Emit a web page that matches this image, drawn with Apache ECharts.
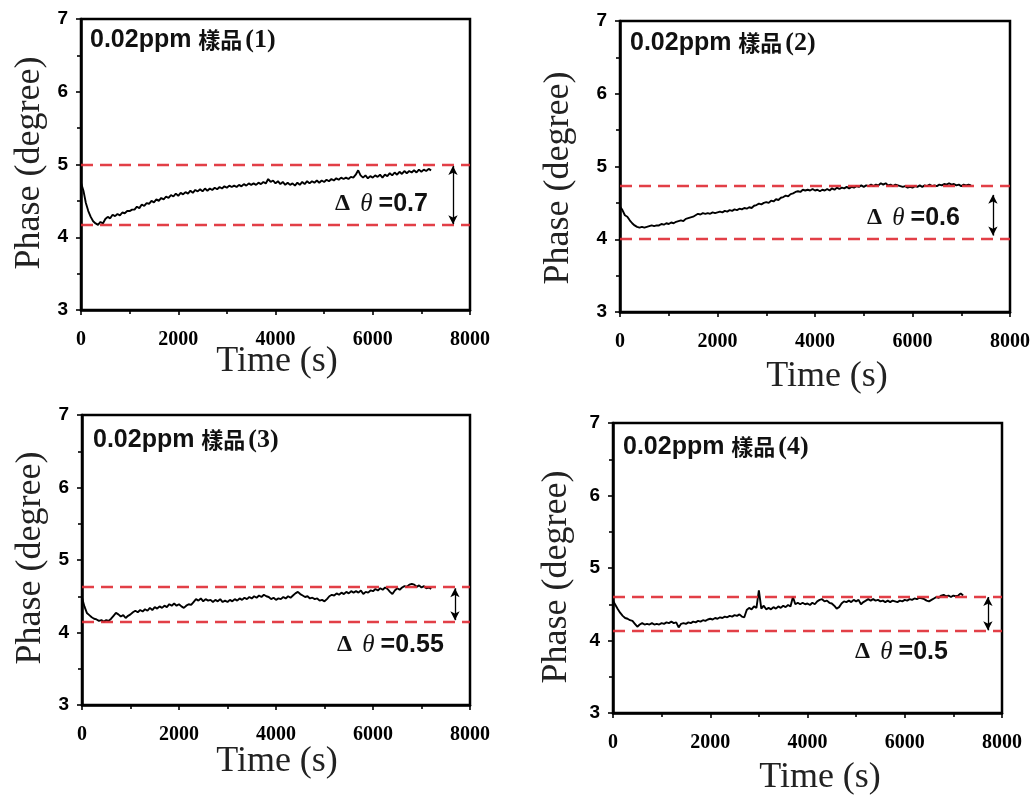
<!DOCTYPE html>
<html><head><meta charset="utf-8">
<script src="https://cdn.jsdelivr.net/npm/echarts@6/dist/echarts.min.js"></script>
<style>html,body{margin:0;padding:0;background:#fff}#c{width:1034px;height:798px}</style>
</head><body><div id="c"></div>
<script>
// time (s)
const time = [
0,50,100,150,200,250,300,350,400,450,
500,550,600,650,700,750,800,850,900,950,
1000,1050,1100,1150,1200,1250,1300,1350,1400,1450,
1500,1550,1600,1650,1700,1750,1800,1850,1900,1950,
2000,2050,2100,2150,2200,2250,2300,2350,2400,2450,
2500,2550,2600,2650,2700,2750,2800,2850,2900,2950,
3000,3050,3100,3150,3200,3250,3300,3350,3400,3450,
3500,3550,3600,3650,3700,3750,3800,3850,3900,3950,
4000,4050,4100,4150,4200,4250,4300,4350,4400,4450,
4500,4550,4600,4650,4700,4750,4800,4850,4900,4950,
5000,5050,5100,5150,5200,5250,5300,5350,5400,5450,
5500,5550,5600,5650,5700,5750,5800,5850,5900,5950,
6000,6050,6100,6150,6200,6250,6300,6350,6400,6450,
6500,6550,6600,6650,6700,6750,6800,6850,6900,6950,
7000,7050,7100,7150,7200];
// phase (degree), sample 1..4
const phase1 = [
4.75,4.64,4.47,4.36,4.28,4.22,4.19,4.17,4.21,4.19,
4.25,4.28,4.26,4.31,4.29,4.32,4.30,4.34,4.33,4.36,
4.36,4.38,4.38,4.42,4.40,4.45,4.43,4.47,4.46,4.50,
4.48,4.52,4.50,4.54,4.52,4.56,4.54,4.58,4.56,4.60,
4.57,4.61,4.59,4.62,4.60,4.64,4.61,4.65,4.63,4.66,
4.63,4.67,4.64,4.67,4.65,4.68,4.66,4.69,4.67,4.70,
4.68,4.71,4.69,4.71,4.69,4.72,4.70,4.73,4.71,4.74,
4.72,4.74,4.72,4.75,4.73,4.76,4.74,4.80,4.76,4.78,
4.74,4.77,4.73,4.76,4.72,4.75,4.72,4.74,4.71,4.75,
4.72,4.76,4.73,4.77,4.74,4.77,4.75,4.78,4.75,4.78,
4.76,4.79,4.77,4.80,4.78,4.81,4.79,4.82,4.80,4.82,
4.80,4.83,4.82,4.86,4.92,4.85,4.82,4.85,4.81,4.84,
4.82,4.85,4.83,4.86,4.82,4.86,4.84,4.88,4.85,4.89,
4.86,4.90,4.87,4.91,4.88,4.91,4.89,4.92,4.89,4.93,
4.90,4.93,4.91,4.94,4.92];
const phase2 = [
4.45,4.40,4.33,4.31,4.26,4.22,4.19,4.17,4.16,4.17,
4.16,4.17,4.18,4.19,4.18,4.19,4.19,4.21,4.20,4.22,
4.21,4.23,4.22,4.24,4.25,4.26,4.25,4.28,4.29,4.30,
4.31,4.33,4.35,4.34,4.36,4.35,4.36,4.35,4.37,4.36,
4.37,4.38,4.37,4.39,4.38,4.40,4.39,4.41,4.40,4.42,
4.41,4.43,4.42,4.44,4.43,4.46,4.47,4.49,4.48,4.50,
4.51,4.50,4.53,4.52,4.55,4.54,4.57,4.58,4.60,4.59,
4.62,4.63,4.65,4.66,4.65,4.68,4.67,4.68,4.67,4.69,
4.67,4.68,4.66,4.68,4.67,4.69,4.67,4.70,4.68,4.71,
4.69,4.71,4.70,4.72,4.70,4.72,4.71,4.73,4.72,4.74,
4.72,4.74,4.73,4.75,4.73,4.75,4.74,4.77,4.75,4.77,
4.74,4.75,4.73,4.75,4.74,4.73,4.72,4.73,4.71,4.72,
4.71,4.73,4.72,4.74,4.72,4.74,4.73,4.75,4.73,4.74,
4.73,4.75,4.74,4.76,4.75,4.77,4.75,4.76,4.74,4.75,
4.73,4.75,4.74,4.75,4.74];
const phase3 = [
4.48,4.36,4.27,4.24,4.21,4.19,4.18,4.16,4.17,4.15,
4.17,4.16,4.19,4.23,4.27,4.25,4.22,4.24,4.20,4.23,
4.25,4.28,4.30,4.28,4.31,4.29,4.32,4.30,4.34,4.31,
4.35,4.33,4.36,4.34,4.37,4.35,4.39,4.37,4.40,4.37,
4.39,4.36,4.34,4.37,4.39,4.38,4.42,4.46,4.44,4.47,
4.43,4.46,4.44,4.45,4.42,4.45,4.43,4.46,4.42,4.44,
4.42,4.45,4.43,4.46,4.44,4.47,4.45,4.48,4.46,4.49,
4.47,4.50,4.48,4.51,4.49,4.52,4.50,4.49,4.46,4.48,
4.45,4.47,4.46,4.49,4.47,4.50,4.48,4.51,4.54,4.56,
4.53,4.51,4.49,4.50,4.47,4.48,4.46,4.47,4.44,4.45,
4.43,4.46,4.50,4.52,4.51,4.54,4.52,4.55,4.53,4.56,
4.54,4.57,4.55,4.57,4.55,4.58,4.53,4.56,4.55,4.58,
4.57,4.60,4.58,4.61,4.59,4.62,4.60,4.56,4.53,4.58,
4.61,4.59,4.62,4.64,4.63,4.66,4.67,4.66,4.63,4.65,
4.62,4.64,4.61,4.62,4.60];
const phase4 = [
4.55,4.49,4.43,4.38,4.34,4.31,4.30,4.28,4.27,4.23,
4.19,4.22,4.24,4.22,4.23,4.22,4.24,4.22,4.23,4.22,
4.24,4.23,4.25,4.24,4.26,4.24,4.25,4.18,4.23,4.24,
4.23,4.25,4.24,4.26,4.25,4.27,4.26,4.28,4.27,4.29,
4.30,4.29,4.31,4.30,4.32,4.31,4.33,4.32,4.34,4.33,
4.35,4.34,4.36,4.33,4.32,4.42,4.45,4.43,4.47,4.45,
4.69,4.44,4.48,4.43,4.45,4.43,4.46,4.44,4.47,4.45,
4.48,4.46,4.49,4.47,4.60,4.50,4.52,4.50,4.52,4.50,
4.51,4.49,4.52,4.50,4.54,4.56,4.57,4.54,4.55,4.52,
4.51,4.48,4.44,4.46,4.51,4.54,4.53,4.55,4.53,4.56,
4.54,4.56,4.50,4.53,4.55,4.57,4.55,4.57,4.55,4.56,
4.54,4.55,4.53,4.55,4.53,4.55,4.54,4.53,4.55,4.54,
4.56,4.55,4.57,4.56,4.58,4.57,4.59,4.58,4.57,4.55,
4.54,4.56,4.58,4.60,4.59,4.62,4.63,4.61,4.62,4.60,
4.62,4.61,4.62,4.65,4.62];
const phases = [phase1, phase2, phase3, phase4];

const upperLevel = [5.0, 4.74, 4.63, 4.61];
const lowerLevel = [4.17, 4.01, 4.15, 4.13];
const arrowX = [7650, 7650, 7690, 7710];
const arrowLow = [4.18, 4.05, 4.17, 4.14];
const arrowHigh = [4.98, 4.61, 4.61, 4.60];
const sampleLabels = ['(1)', '(2)', '(3)', '(4)'];
const deltaValues = ['0.7', '0.6', '0.55', '0.5'];
const titlePrefix = '0.02ppm ';
const titleCJK = '樣品';
const xAxisName = 'Time (s)';
const yAxisName = 'Phase (degree)';
const xRange = [0, 8000, 2000];
const yRange = [3, 7, 1];

const layout = [
  {grid:{left:81,top:19,width:389,height:291}, title:[90,40], delta:[335,204], yName:[30,163], xName:[277,362]},
  {grid:{left:620,top:21,width:390,height:291}, title:[630,43], delta:[867,218], yName:[559,178], xName:[827,377]},
  {grid:{left:82,top:415,width:388,height:290}, title:[93,440], delta:[337,645], yName:[31,558], xName:[277,762]},
  {grid:{left:613,top:423,width:389,height:290}, title:[623,447], delta:[855,652], yName:[557,577], xName:[820,778]}
];

const grids = [], xAxes = [], yAxes = [], series = [], graphics = [];
layout.forEach((L, k) => {
  grids.push(Object.assign({show:true, borderColor:'#000', borderWidth:2.5, backgroundColor:'transparent', containLabel:false}, L.grid));
  xAxes.push({
    type:'value', gridIndex:k, min:xRange[0], max:xRange[1], interval:xRange[2],
    axisLine:{show:true, onZero:false, lineStyle:{color:'#000', width:2.5}},
    axisTick:{show:true, length:5, lineStyle:{color:'#000', width:1.6}},
    minorTick:{show:true, splitNumber:2, length:4, lineStyle:{color:'#000', width:1.6}},
    splitLine:{show:false},
    axisLabel:{color:'#000', fontFamily:'Liberation Serif', fontWeight:'bold', fontSize:20, margin:20,
      formatter: v => String(v)}
  });
  yAxes.push({
    type:'value', gridIndex:k, min:yRange[0], max:yRange[1], interval:yRange[2],
    axisLine:{show:true, onZero:false, lineStyle:{color:'#000', width:2.5}},
    axisTick:{show:true, length:5, lineStyle:{color:'#000', width:1.6}},
    minorTick:{show:true, splitNumber:2, length:4, lineStyle:{color:'#000', width:1.6}},
    splitLine:{show:false},
    axisLabel:{color:'#000', fontFamily:'Liberation Sans', fontWeight:'bold', fontSize:19, margin:13,
      formatter: v => String(v)}
  });
  series.push({
    type:'line', xAxisIndex:k, yAxisIndex:k, showSymbol:false, symbol:'none',
    data: time.map((t, i) => [t, phases[k][i]]),
    lineStyle:{color:'#000', width:1.9}, z:3,
    markLine:{
      silent:true, symbol:'none', animation:false,
      label:{show:false},
      lineStyle:{color:'#df2a33', width:2.3, type:[12,7], opacity:0.9},
      data:[{yAxis:upperLevel[k]}, {yAxis:lowerLevel[k]}]
    }
  });
  series.push({
    type:'line', xAxisIndex:k, yAxisIndex:k, data:[], showSymbol:false,
    markLine:{
      silent:true, symbol:['arrow','arrow'], symbolSize:[7,9], animation:false,
      label:{show:false},
      lineStyle:{color:'#000', width:1.3, type:'solid'},
      data:[[{coord:[arrowX[k], arrowLow[k]]}, {coord:[arrowX[k], arrowHigh[k]]}]]
    }
  });
  graphics.push({
    type:'text', x:L.title[0], y:L.title[1],
    style:{
      text:'{a|' + titlePrefix + '}{b|' + titleCJK + '}{c|' + sampleLabels[k] + '}',
      align:'left', verticalAlign:'middle',
      rich:{
        a:{fontFamily:'Liberation Sans', fontWeight:'bold', fontSize:25, fill:'#111'},
        b:{fontFamily:'Noto Sans CJK TC', fontWeight:'bold', fontSize:22, fill:'#111', padding:[0,3,0,0]},
        c:{fontFamily:'Liberation Serif', fontWeight:'bold', fontSize:26, fill:'#111'}
      }
    }
  });
  graphics.push({
    type:'text', x:L.delta[0], y:L.delta[1],
    style:{
      text:'{d|Δ} {t|θ} {e|=' + deltaValues[k] + '}',
      align:'left', verticalAlign:'middle',
      fontFamily:'Liberation Sans', fontSize:22, fill:'#111',
      rich:{
        d:{fontFamily:'Liberation Serif', fontWeight:'bold', fontSize:24, fill:'#111', padding:[0,4,0,0]},
        t:{fontFamily:'Liberation Serif', fontStyle:'italic', fontSize:25, fill:'#111'},
        e:{fontFamily:'Liberation Sans', fontWeight:'bold', fontSize:25, fill:'#111'}
      }
    }
  });
  graphics.push({
    type:'text', x:L.yName[0], y:L.yName[1], rotation:Math.PI/2,
    style:{text:yAxisName, align:'center', verticalAlign:'middle', fontFamily:'Liberation Serif', fontSize:36, fill:'#222'}
  });
  graphics.push({
    type:'text', x:L.xName[0], y:L.xName[1],
    style:{text:xAxisName, align:'center', verticalAlign:'middle', fontFamily:'Liberation Serif', fontSize:36, fill:'#222'}
  });
});

const chart = echarts.init(document.getElementById('c'), null, {renderer:'canvas'});
chart.setOption({
  backgroundColor:'#fff', animation:false,
  grid:grids, xAxis:xAxes, yAxis:yAxes, series:series, graphic:graphics
});
</script></body></html>
